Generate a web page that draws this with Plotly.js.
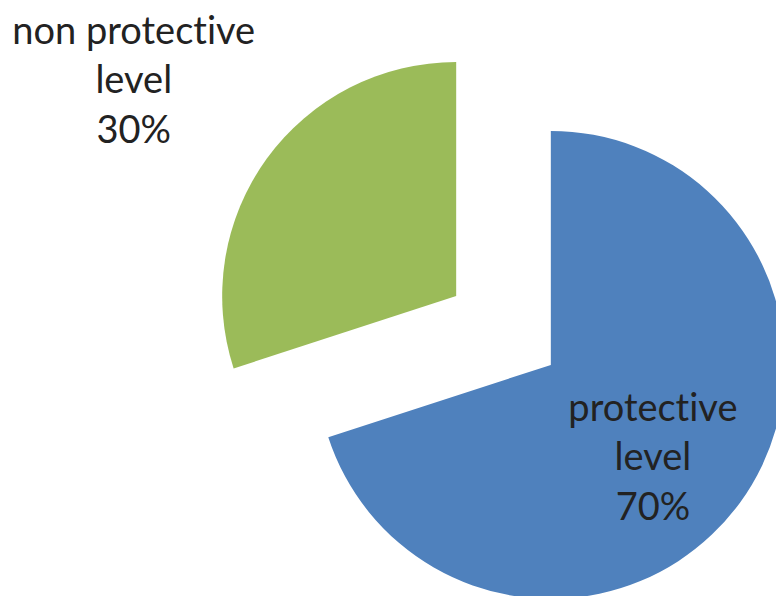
<!DOCTYPE html>
<html>
<head>
<meta charset="utf-8">
<script src="https://cdn.plot.ly/plotly-3.0.1.min.js"></script>
<style>
  html, body { margin: 0; padding: 0; overflow: hidden; background: #fff; }
  #chart { width: 800px; height: 640px; }
  #chart text { font-variant-ligatures: none !important; font-feature-settings: "liga" 0, "clig" 0, "dlig" 0 !important; }
</style>
</head>
<body>
<div id="chart"></div>
<script>
// Data
const labels = ["protective level", "non protective level"];
const values = [70, 30];
const colors = ["#4F81BD", "#9BBB59"];

// Label positions (pixels in the 800x640 layout)
const labelPos = [[653, 455], [134, 79]];

const W = 800, H = 640;

function labelText(lbl, v) {
  const i = lbl.lastIndexOf(" ");
  return lbl.slice(0, i) + "<br>" + lbl.slice(i + 1) + "<br>" + v + "%";
}

const trace = {
  type: "pie",
  labels: labels,
  values: values,
  sort: false,
  direction: "clockwise",
  rotation: 0,
  pull: [0.25, 0.25],
  marker: { colors: colors, line: { width: 0 } },
  textinfo: "none",
  hoverinfo: "label+percent",
  showlegend: false,
  domain: { x: [211 / W, 796 / W], y: [1 - 623 / H, 1 - 38 / H] }
};

const annotations = labels.map((l, i) => ({
  text: labelText(l, values[i]),
  xref: "paper", yref: "paper",
  x: labelPos[i][0] / W, y: 1 - labelPos[i][1] / H,
  xanchor: "center", yanchor: "middle",
  showarrow: false,
  align: "center",
  font: { family: "Lato, 'Open Sans', sans-serif", size: 38, color: "#222" }
}));

const layout = {
  width: W, height: H,
  margin: { l: 0, r: 0, t: 0, b: 0 },
  paper_bgcolor: "#fff",
  showlegend: false,
  annotations: annotations
};

Plotly.newPlot("chart", [trace], layout, { displayModeBar: false, staticPlot: true });
</script>
</body>
</html>
